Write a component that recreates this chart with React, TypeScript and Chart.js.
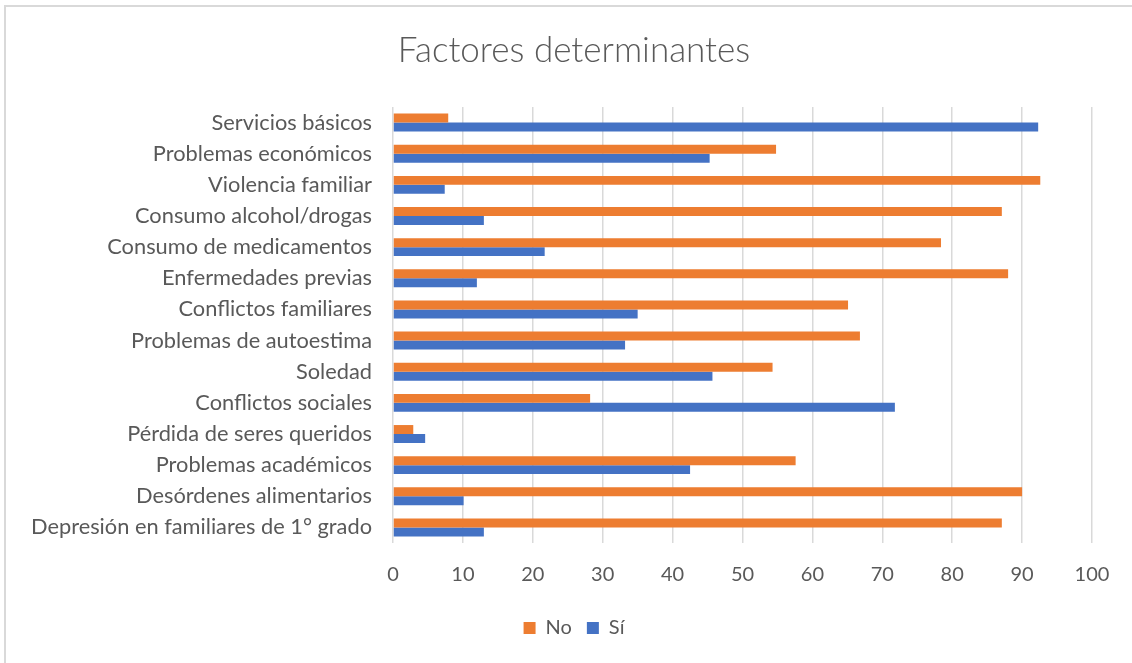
import React, { useEffect, useRef } from "react";
import { Chart, registerables } from "chart.js";

Chart.register(...registerables);

const categories = [
  "Servicios básicos",
  "Problemas económicos",
  "Violencia familiar",
  "Consumo alcohol/drogas",
  "Consumo de medicamentos",
  "Enfermedades previas",
  "Conflictos familiares",
  "Problemas de autoestima",
  "Soledad",
  "Conflictos sociales",
  "Pérdida de seres queridos",
  "Problemas académicos",
  "Desórdenes alimentarios",
  "Depresión en familiares de 1° grado",
];

const noValues = [7.9, 54.8, 92.6, 87.1, 78.4, 88.0, 65.1, 66.8, 54.3, 28.2, 2.9, 57.6, 90.0, 87.1];
const siValues = [92.3, 45.3, 7.4, 13.0, 21.7, 12.0, 35.0, 33.2, 45.7, 71.8, 4.6, 42.5, 10.1, 13.0];

const seriesNames = ["No", "Sí"];
const xTicks = [0, 10, 20, 30, 40, 50, 60, 70, 80, 90, 100];

const TEXT = "#595959";
const FONT = "Lato, 'Open Sans', sans-serif";

const widenLabelArea = {
  id: "widenLabelArea",
  afterLayout(chart: any) {
    if (chart.scales.y) chart.scales.y.left = 0;
  },
};

export default function App() {
  const ref = useRef<HTMLCanvasElement | null>(null);

  useEffect(() => {
    if (!ref.current) return;
    const chart = new Chart(ref.current, {
      type: "bar",
      data: {
        labels: categories,
        datasets: [
          {
            label: seriesNames[0],
            data: noValues,
            backgroundColor: "#ED7D31",
            borderWidth: 0,
            categoryPercentage: 0.575,
            barPercentage: 1,
          },
          {
            label: seriesNames[1],
            data: siValues,
            backgroundColor: "#4472C4",
            borderWidth: 0,
            categoryPercentage: 0.575,
            barPercentage: 1,
          },
        ],
      },
      options: {
        indexAxis: "y",
        animation: false,
        responsive: false,
        layout: { padding: { left: 56, right: 40, top: 0, bottom: 15 } },
        plugins: {
          title: {
            display: true,
            text: "Factores determinantes",
            color: TEXT,
            font: { family: FONT, size: 35, weight: "300" },
            padding: { top: 30, bottom: 35 },
          },
          legend: {
            position: "bottom",
            labels: {
              boxWidth: 12,
              boxHeight: 12,
              padding: 15,
              color: TEXT,
              font: { family: FONT, size: 20 },
            },
          },
          tooltip: { enabled: false },
        },
        scales: {
          x: {
            min: 0,
            max: 100,
            afterBuildTicks: (s: any) => {
              s.ticks = xTicks.map((v) => ({ value: v }));
            },
            afterFit: (s: any) => {
              s.height = 60;
            },
            grid: { color: "#d9d9d9", lineWidth: 1.5, drawTicks: false },
            border: { display: false },
            ticks: { color: TEXT, font: { family: FONT, size: 20 }, padding: 20 },
          },
          y: {
            afterFit: (s: any) => {
              s.width = 337;
            },
            grid: { display: false, drawTicks: false },
            border: { display: false },
            ticks: { color: TEXT, font: { family: FONT, size: 21.8 }, padding: 21, autoSkip: false },
          },
        },
      },
      plugins: [widenLabelArea],
    });
    return () => chart.destroy();
  }, []);

  return (
    <div
      style={{
        position: "absolute",
        left: 0,
        top: 0,
        width: 1132,
        height: 663,
        overflow: "hidden",
        background: "#ffffff",
      }}
    >
      <div
        style={{
          position: "absolute",
          left: 4,
          top: 5,
          width: 1300,
          height: 900,
          border: "2px solid #d9d9d9",
        }}
      />
      <canvas
        ref={ref}
        width={1132}
        height={663}
        style={{ position: "absolute", left: 0, top: 0, display: "block" }}
      />
    </div>
  );
}
